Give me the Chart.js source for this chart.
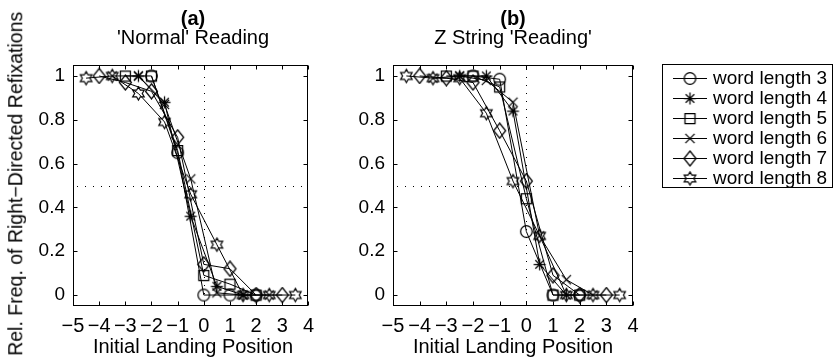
<!DOCTYPE html>
<html>
<head>
<meta charset="utf-8">
<script src="https://cdn.jsdelivr.net/npm/chart.js@4.4.0/dist/chart.umd.min.js"></script>
<style>
  html, body { margin:0; padding:0; background:#fff; }
  body { width:837px; height:360px; position:relative; overflow:hidden; font-family:'Liberation Sans', Arial, Helvetica, sans-serif; color:#000; }
  canvas { position:absolute; top:0; }
  .t { position:absolute; white-space:nowrap; line-height:1; text-align:center; }
</style>
</head>
<body>
<canvas id="ca" width="322" height="360" style="left:0px"></canvas>
<canvas id="cb" width="517" height="360" style="left:320px"></canvas>

<div class="t" style="left:93px; width:200px; top:8px; font-size:20px; font-weight:bold;">(a)</div>
<div class="t" style="left:43px; width:300px; top:27px; font-size:20px;">'Normal' Reading</div>
<div class="t" style="left:413px; width:200px; top:8px; font-size:20px; font-weight:bold;">(b)</div>
<div class="t" style="left:363px; width:300px; top:27px; font-size:20px;">Z String 'Reading'</div>
<div class="t" style="left:43px; width:300px; top:336px; font-size:20px;">Initial Landing Position</div>
<div class="t" style="left:363px; width:300px; top:336px; font-size:20px;">Initial Landing Position</div>
<div class="t" style="left:-184px; width:400px; top:174px; font-size:19.5px; transform:rotate(-90deg); transform-origin:50% 50%;">Rel. Freq. of Right−Directed Refixations</div>

<script>
// ---------- data ----------
const seriesLabels = ['word length 3','word length 4','word length 5','word length 6','word length 7','word length 8'];
const xTicks = [-5,-4,-3,-2,-1,0,1,2,3,4];
const yTicks = [0,0.2,0.4,0.6,0.8,1];

// initial landing positions (relative to word centre) per word length
const pos3 = [-2,-1,0,1,2];
const pos4 = [-2.5,-1.5,-0.5,0.5,1.5];
const pos5 = [-3,-2,-1,0,1,2];
const pos6 = [-3.5,-2.5,-1.5,-0.5,0.5,1.5,2.5];
const pos7 = [-4,-3,-2,-1,0,1,2,3];
const pos8 = [-4.5,-3.5,-2.5,-1.5,-0.5,0.5,1.5,2.5,3.5];

// (a) 'Normal' Reading
const a3 = [1, 0.65, 0, 0, 0];
const a4 = [1, 0.88, 0.36, 0.04, 0];
const a5 = [1, 1, 0.66, 0.09, 0.05, 0];
const a6 = [1, 1, 0.87, 0.53, 0.01, 0, 0];
const a7 = [1, 0.97, 0.93, 0.72, 0.14, 0.12, 0, 0];
const a8 = [0.99, 1, 0.92, 0.79, 0.46, 0.23, 0, 0, 0];

// (b) Z String 'Reading'
const b3 = [1, 0.985, 0.29, 0, 0];
const b4 = [1, 1, 0.84, 0.14, 0];
const b5 = [1, 1, 0.95, 0.44, 0, 0];
const b6 = [0.99, 1, 0.98, 0.88, 0.27, 0.07, 0];
const b7 = [1, 0.99, 0.97, 0.75, 0.52, 0.09, 0, 0];
const b8 = [1, 0.99, 0.99, 0.83, 0.52, 0.27, 0, 0, 0];

const positions = [pos3,pos4,pos5,pos6,pos7,pos8];
const valuesA = [a3,a4,a5,a6,a7,a8];
const valuesB = [b3,b4,b5,b6,b7,b8];

// ---------- marker images ----------
function marker(kind){
  const S = 17, c = S/2;
  const cv = document.createElement('canvas');
  cv.width = S; cv.height = S;
  const g = cv.getContext('2d');
  g.strokeStyle = '#000'; g.lineWidth = 1.25;
  g.beginPath();
  if (kind === 'circle') {
    g.arc(c, c, 5.8, 0, Math.PI*2);
  } else if (kind === 'asterisk') {
    g.moveTo(c-6, c); g.lineTo(c+6, c);
    g.moveTo(c, c-6); g.lineTo(c, c+6);
    g.moveTo(c-4.3, c-4.3); g.lineTo(c+4.3, c+4.3);
    g.moveTo(c-4.3, c+4.3); g.lineTo(c+4.3, c-4.3);
  } else if (kind === 'square') {
    g.rect(c-5, c-5, 10, 10);
  } else if (kind === 'x') {
    g.moveTo(c-4.6, c-4.6); g.lineTo(c+4.6, c+4.6);
    g.moveTo(c-4.6, c+4.6); g.lineTo(c+4.6, c-4.6);
  } else if (kind === 'diamond') {
    g.moveTo(c, c-7.5); g.lineTo(c+6, c); g.lineTo(c, c+7.5); g.lineTo(c-6, c); g.closePath();
  } else if (kind === 'hexagram') {
    const R = 6.6, r = R/Math.sqrt(3);
    for (let k = 0; k < 12; k++) {
      const ang = -Math.PI/2 + k*Math.PI/6;
      const rr = (k % 2 === 0) ? R : r;
      const px = c + rr*Math.cos(ang), py = c + rr*Math.sin(ang);
      if (k === 0) g.moveTo(px, py); else g.lineTo(px, py);
    }
    g.closePath();
  }
  g.stroke();
  return cv;
}
const markerKinds = ['circle','asterisk','square','x','diamond','hexagram'];
const markerImgs = markerKinds.map(marker);

// ---------- frame / ticks / dotted lines / legend plugin ----------
const framePlugin = {
  id: 'frame',
  beforeDatasetsDraw(chart) {
    const {ctx, chartArea:a, scales:{x, y}} = chart;
    ctx.save();
    ctx.strokeStyle = '#000'; ctx.lineWidth = 1; ctx.setLineDash([1, 7]);
    const x0 = Math.round(x.getPixelForValue(0)) + 0.5;
    ctx.beginPath(); ctx.moveTo(x0, a.top + 4); ctx.lineTo(x0, a.bottom); ctx.stroke();
    const y5 = Math.round(y.getPixelForValue(0.5)) + 0.5;
    ctx.beginPath(); ctx.moveTo(a.left + 4, y5); ctx.lineTo(a.right, y5); ctx.stroke();
    ctx.restore();
  },
  afterDraw(chart, args, opts) {
    const {ctx, chartArea:a, scales:{x, y}} = chart;
    ctx.save();
    ctx.strokeStyle = '#000'; ctx.lineWidth = 1; ctx.setLineDash([]);
    const L = Math.round(a.left) + 0.5, R = Math.round(a.right) - 0.5;
    const T = Math.round(a.top) + 0.5, B = Math.round(a.bottom) - 0.5;
    ctx.strokeRect(L, T, R - L, B - T);
    const tl = 4;
    ctx.beginPath();
    xTicks.forEach(v => {
      const px = Math.round(x.getPixelForValue(v)) + 0.5;
      ctx.moveTo(px, B); ctx.lineTo(px, B - tl);
      ctx.moveTo(px, T); ctx.lineTo(px, T + tl);
    });
    yTicks.forEach(v => {
      const py = Math.round(y.getPixelForValue(v)) + 0.5;
      ctx.moveTo(L, py); ctx.lineTo(L + tl, py);
      ctx.moveTo(R, py); ctx.lineTo(R - tl, py);
    });
    ctx.stroke();

    if (opts && opts.legend) {
      const lx = opts.legend.x, ly = opts.legend.y;
      ctx.strokeRect(lx + 0.5, ly + 0.5, opts.legend.w, opts.legend.h);
      ctx.font = '19px "Liberation Sans", Arial, sans-serif';
      ctx.fillStyle = '#000';
      ctx.textBaseline = 'middle';
      ctx.textAlign = 'left';
      seriesLabels.forEach((lab, i) => {
        const cy = ly + 14 + i * 20;
        ctx.beginPath();
        ctx.moveTo(lx + 11, cy + 0.5); ctx.lineTo(lx + 45, cy + 0.5);
        ctx.stroke();
        const img = markerImgs[i];
        ctx.drawImage(img, lx + 28 - img.width/2, cy + 0.5 - img.height/2);
        ctx.fillText(lab, lx + 51, cy + 1);
      });
    }
    ctx.restore();
  }
};

const fontFamily = '"Liberation Sans", Arial, Helvetica, sans-serif';
function fmtX(v){ return v < 0 ? '\u2212' + Math.abs(v) : String(v); }
function fmtY(v){ return String(+Number(v).toFixed(1)); }

function makeChart(id, values, padRight, legend) {
  return new Chart(document.getElementById(id), {
    type: 'scatter',
    data: {
      datasets: seriesLabels.map((lab, i) => ({
        label: lab,
        data: positions[i].map((px, j) => ({x: px, y: values[i][j]})),
        showLine: true,
        borderColor: '#000',
        borderWidth: 1,
        pointStyle: markerImgs[i],
        pointRadius: 6,
        pointBorderColor: '#000',
        pointBackgroundColor: 'rgba(0,0,0,0)',
        tension: 0,
        clip: false
      }))
    },
    options: {
      responsive: false,
      animation: false,
      events: [],
      devicePixelRatio: 1,
      layout: { padding: { left: 0, right: padRight, top: 65, bottom: 0 } },
      plugins: { legend: { display: false }, tooltip: { enabled: false }, frame: { legend } },
      scales: {
        x: {
          type: 'linear', min: -5, max: 4,
          afterBuildTicks: s => { s.ticks = xTicks.map(v => ({value: v})); },
          afterFit: s => { s.height = 54; },
          grid: { display: false, drawTicks: false },
          border: { display: false },
          ticks: { padding: 8, color: '#000', font: { family: fontFamily, size: 20 }, callback: fmtX, maxRotation: 0, autoSkip: false }
        },
        y: {
          type: 'linear', min: -0.05, max: 1.05,
          afterBuildTicks: s => { s.ticks = yTicks.map(v => ({value: v})); },
          afterFit: s => { s.width = 73; },
          grid: { display: false, drawTicks: false },
          border: { display: false },
          ticks: { padding: 8, color: '#000', font: { family: fontFamily, size: 19 }, callback: fmtY, autoSkip: false }
        }
      }
    },
    plugins: [framePlugin]
  });
}

makeChart('ca', valuesA, 8, null);
makeChart('cb', valuesB, 204, { x: 342, y: 64, w: 170, h: 123 });
</script>
</body>
</html>
